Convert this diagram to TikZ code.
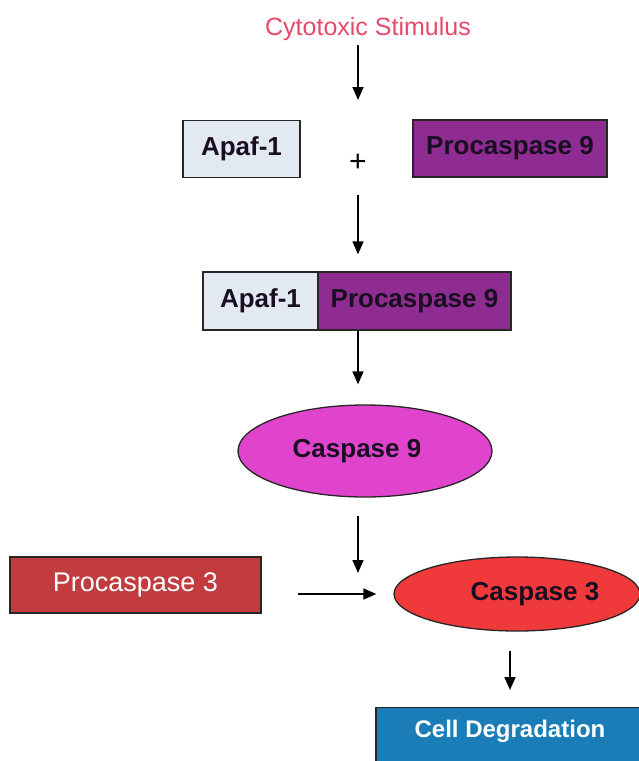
\documentclass[tikz,border=0pt]{standalone}
\usepackage{fontspec}
\setmainfont{Liberation Sans}
\usetikzlibrary{arrows.meta,shapes.geometric}
\definecolor{stimred}{HTML}{E8486A}
\definecolor{apafblue}{HTML}{E3E9F3}
\definecolor{propurple}{HTML}{8E2C91}
\definecolor{casmagenta}{HTML}{E043CC}
\definecolor{prored}{HTML}{C23B3E}
\definecolor{casred}{HTML}{F0393A}
\definecolor{cellblue}{HTML}{1B7DB8}
\definecolor{inkdark}{HTML}{1A0F22}
\begin{document}
\begin{tikzpicture}[x=1pt,y=-1pt,
  arr/.style={line width=1.6pt,-{Triangle[length=13pt,width=11pt]}},
  box/.style={draw=black!85,line width=1.3pt,inner sep=0pt,minimum height=57pt},
  oval/.style={ellipse,draw=black!85,line width=1.3pt,inner sep=0pt},
  bigbold/.style={font=\fontsize{26}{30}\selectfont\bfseries,text=inkdark}]
\useasboundingbox (0,0) rectangle (638,761);

% stimulus and first complex partners
\node[anchor=base,text=stimred,font=\fontsize{25}{30}\selectfont] (stim) at (368,35) {Cytotoxic Stimulus};
\node[box,bigbold,fill=apafblue,minimum width=117pt] (apaf) at (241.5,149) {Apaf-1};
\node[box,bigbold,fill=propurple,minimum width=194pt] (pro9) at (510,148.5) {Procaspase 9};
\node[font=\fontsize{30}{34}\selectfont,inner sep=0pt] (plus) at (358,163) {+};

% apoptosome complex
\node[box,bigbold,fill=apafblue,minimum width=115pt,minimum height=58pt] (capaf) at (260.5,301) {Apaf-1};
\node[box,bigbold,fill=propurple,minimum width=193pt,minimum height=58pt] (cpro) at (414.5,301) {Procaspase 9};

% caspases
\node[oval,bigbold,fill=casmagenta,minimum width=254pt,minimum height=92pt] (c9) at (365,451) {Caspase 9\hspace*{16pt}};
\node[box,fill=prored,minimum width=251pt,minimum height=56pt,text=white,font=\fontsize{27}{30}\selectfont] (p3) at (135.5,585) {Procaspase 3};
\node[oval,bigbold,fill=casred,minimum width=246pt,minimum height=74pt] (c3) at (517,594) {\hspace*{36pt}Caspase 3};

% outcome
\node[box,anchor=north,fill=cellblue,text=white,font=\fontsize{24}{28}\selectfont\bfseries,
  minimum width=268pt,minimum height=0pt,text height=29.5pt,text depth=30pt] (cd) at (510,707) {Cell Degradation};

% connectors
\draw[arr,shorten <=10pt,shorten >=63pt] (stim.base -| plus) -- (plus.center);
\draw[arr,shorten <=32pt,shorten >=17pt] (plus.center) -- (plus |- capaf.north);
\draw[arr,shorten >=20pt] (plus |- cpro.south) -- (plus |- c9.north);
\draw[arr,shorten <=18pt,shorten >=21pt] (plus |- c9.south) -- (plus |- c3.center);
\draw[arr,shorten <=36pt,shorten >=17pt] (p3.east |- c3.west) -- (c3.west);
\draw[arr,shorten <=19pt,shorten >=17pt] (cd.north |- c3.south) -- (cd.north);
\end{tikzpicture}
\end{document}
